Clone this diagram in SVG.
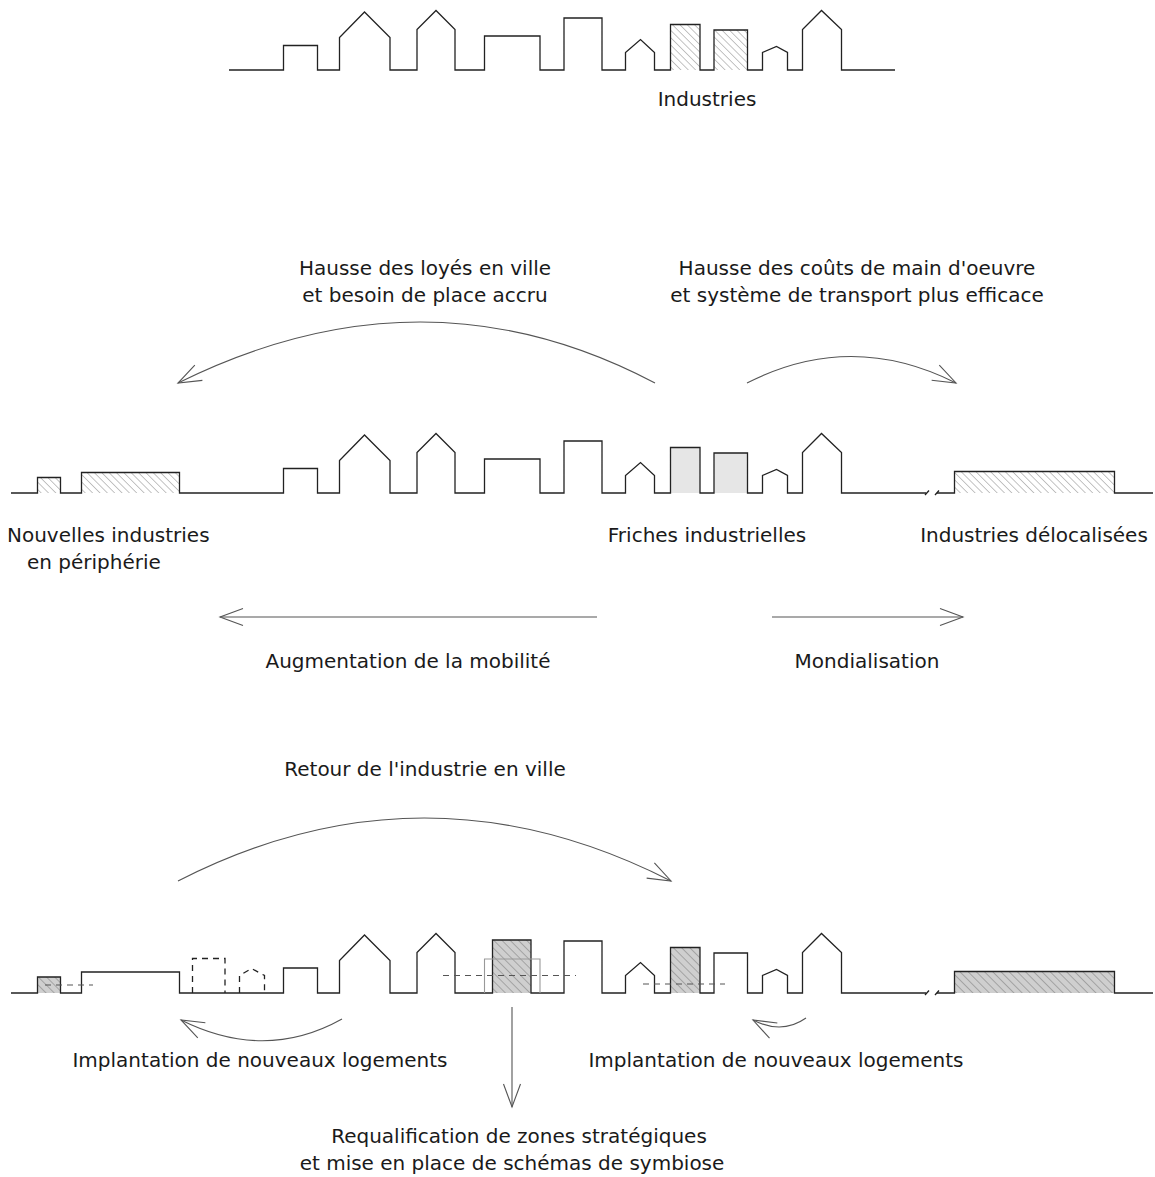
<svg xmlns="http://www.w3.org/2000/svg" width="1155" height="1177" viewBox="0 0 1155 1177">
  <style>
    .sky { fill: none; stroke: #222; stroke-width: 1.3; stroke-linejoin: miter; }
    .ghost { fill: none; stroke: #999; stroke-width: 1.1; }
    .dash { fill: none; stroke: #555; stroke-width: 1.2; stroke-dasharray: 6 5; }
    .dashbox { fill: none; stroke: #222; stroke-width: 1.3; stroke-dasharray: 6 5; }
    .hatch { fill: url(#hatchLight); }
    .hatchGrey { fill: url(#hatchDark); }
    .idle { fill: #e6e6e6; }
    .arc { fill: none; stroke: #555; stroke-width: 1.1; marker-end: url(#openHead); }
    text { font-family: "DejaVu Sans", "Liberation Sans", sans-serif; font-size: 20px; fill: #1a1a1a; }
    .c { text-anchor: middle; }
  </style>
  <defs>
    <pattern id="hatchLight" patternUnits="userSpaceOnUse" width="5.2" height="10" patternTransform="rotate(-45)">
      <line x1="0" y1="-1" x2="0" y2="11" stroke="#888" stroke-width="1"/>
    </pattern>
    <pattern id="hatchDark" patternUnits="userSpaceOnUse" width="5.8" height="10" patternTransform="rotate(-45)">
      <rect x="-1" y="-1" width="8" height="12" fill="#cfcfcf"/>
      <line x1="0" y1="-1" x2="0" y2="11" stroke="#777" stroke-width="1"/>
    </pattern>
    <marker id="openHead" markerUnits="userSpaceOnUse" markerWidth="30" markerHeight="24" viewBox="-26 -12 30 24" refX="0" refY="0" orient="auto">
      <path d="M-23,-8.5 L0,0 L-23,8.5" fill="none" stroke="#555" stroke-width="1.1"/>
    </marker>
  </defs>

  <!-- Initial city: industries inside the urban fabric -->
  <g id="city-initial">
    <rect class="hatch" x="670.5" y="24.5" width="29.5" height="45.5"/>
    <rect class="hatch" x="714" y="30" width="33.5" height="40"/>
    <path class="sky" d="M229,70 H283.5 V45.5 H317.5 V70 H339.5 V37.5 L364.5,12 L390,37.5 V70 H417 V29.5 L436,10.5 L455,29.5 V70 H484.5 V36 H540 V70 H564 V18 H602 V70 H625.5 V52.5 L640.5,39.5 L654.5,52.5 V70 H670.5 V24.5 H700 V70 H714 V30 H747.5 V70 H762.5 V52.5 L776.5,46.5 L787.5,52.5 V70 H802.5 V29.5 L821.5,10.5 L841.5,29.5 V70 H895"/>
  </g>

  <!-- Second state: wasteland in the centre, industries moved out -->
  <g id="city-relocated" transform="translate(0,423)">
    <rect class="hatch" x="37.5" y="54.5" width="23" height="15.5"/>
    <rect class="hatch" x="81.5" y="49.5" width="98" height="20.5"/>
    <rect class="idle" x="670.5" y="24.5" width="29.5" height="45.5"/>
    <rect class="idle" x="714" y="30" width="33.5" height="40"/>
    <rect class="hatch" x="954.5" y="48.5" width="160" height="21.5"/>
    <path class="sky" d="M11,70 H37.5 V54.5 H60.5 V70 H81.5 V49.5 H179.5 V70 H283.5 V45.5 H317.5 V70 H339.5 V37.5 L364.5,12 L390,37.5 V70 H417 V29.5 L436,10.5 L455,29.5 V70 H484.5 V36 H540 V70 H564 V18 H602 V70 H625.5 V52.5 L640.5,39.5 L654.5,52.5 V70 H670.5 V24.5 H700 V70 H714 V30 H747.5 V70 H762.5 V52.5 L776.5,46.5 L787.5,52.5 V70 H802.5 V29.5 L821.5,10.5 L841.5,29.5 V70 H926"/>
    <path class="sky" d="M925,72 L929,67.5 M935,72 L939,67.5"/>
    <path class="sky" d="M937,70 H954.5 V48.5 H1114.5 V70 H1153"/>
  </g>

  <!-- Third state: industry back in town, new housing -->
  <g id="city-return" transform="translate(0,923)">
    <rect class="hatchGrey" x="37.5" y="54" width="23" height="16"/>
    <rect class="hatchGrey" x="492.5" y="17" width="38.5" height="53"/>
    <rect class="hatchGrey" x="670.5" y="24.5" width="29.5" height="45.5"/>
    <rect class="hatchGrey" x="954.5" y="48.5" width="160" height="21.5"/>
    <path class="sky" d="M11,70 H37.5 V54 H60.5 V70 H81.5 V49 H179.5 V70 H283.5 V45 H317.5 V70 H339.5 V37.5 L364.5,12 L390,37.5 V70 H417 V29.5 L436,10.5 L455,29.5 V70 H492.5 V17 H531 V70 H564 V18 H602 V70 H625.5 V52.5 L640.5,39.5 L654.5,52.5 V70 H670.5 V24.5 H700 V70 H714 V30 H747.5 V70 H762.5 V52.5 L776.5,46.5 L787.5,52.5 V70 H802.5 V29.5 L821.5,10.5 L841.5,29.5 V70 H926"/>
    <path class="sky" d="M925,72 L929,67.5 M935,72 L939,67.5"/>
    <path class="sky" d="M937,70 H954.5 V48.5 H1114.5 V70 H1153"/>
    <path class="ghost" d="M484.5,70 V36 H540 V70"/>
    <path class="dashbox" d="M192.5,70 V35.5 H225 V70"/>
    <path class="dashbox" d="M239.5,70 V52.5 L251.5,45.5 L264.5,52.5 V70"/>
    <path class="dash" d="M45,62 H93"/>
    <path class="dash" d="M443,52.5 H576"/>
    <path class="dash" d="M643,61 H725"/>
  </g>

  <!-- Flows between the states -->
  <g id="connectors">
    <path class="arc" d="M655,383 Q424,261 178,383"/>
    <path class="arc" d="M747,383 Q851,330 956,383"/>
    <path class="arc" d="M597,617 H220"/>
    <path class="arc" d="M772,617 H963"/>
    <path class="arc" d="M178,881 Q424,755 671,881"/>
    <path class="arc" d="M342,1019 Q265,1062 181,1020"/>
    <path class="arc" d="M806,1018 Q782,1035 753,1020"/>
    <path class="arc" d="M512,1007 V1107"/>
  </g>

  <!-- Labels -->
  <g id="labels">
    <text class="c" x="707" y="106">Industries</text>
    <text class="c" x="425" y="275">Hausse des loyés en ville</text>
    <text class="c" x="425" y="302">et besoin de place accru</text>
    <text class="c" x="857" y="275">Hausse des coûts de main d'oeuvre</text>
    <text class="c" x="857" y="302">et système de transport plus efficace</text>
    <text x="7" y="542">Nouvelles industries</text>
    <text x="27" y="569">en périphérie</text>
    <text class="c" x="707" y="542">Friches industrielles</text>
    <text class="c" x="1034" y="542">Industries délocalisées</text>
    <text class="c" x="408" y="668">Augmentation de la mobilité</text>
    <text class="c" x="867" y="668">Mondialisation</text>
    <text class="c" x="425" y="776">Retour de l'industrie en ville</text>
    <text class="c" x="260" y="1067">Implantation de nouveaux logements</text>
    <text class="c" x="776" y="1067">Implantation de nouveaux logements</text>
    <text class="c" x="519" y="1143">Requalification de zones stratégiques</text>
    <text class="c" x="512" y="1170">et mise en place de schémas de symbiose</text>
  </g>
</svg>
